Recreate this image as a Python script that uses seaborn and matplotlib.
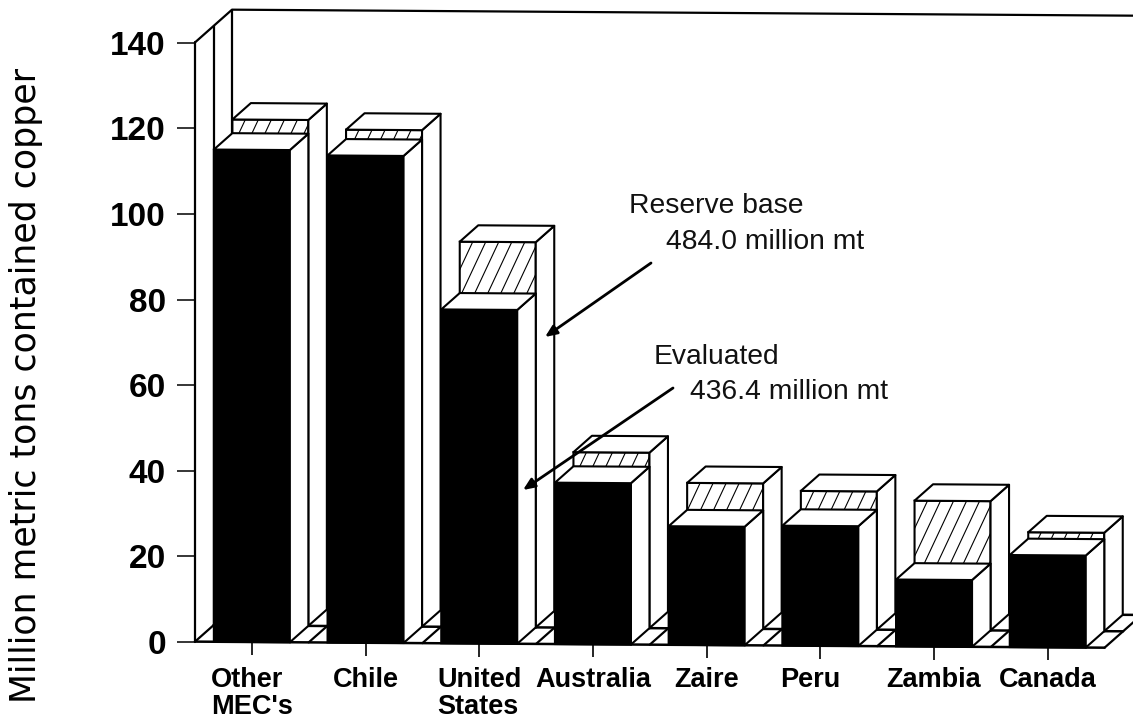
import matplotlib
matplotlib.use('Agg')
import matplotlib.pyplot as plt
import numpy as np
import seaborn as sns
from matplotlib.patches import Polygon
from matplotlib.transforms import Affine2D, ScaledTranslation

# Copper reserves by country, million metric tons
paises = ['Other\nMEC\'s', 'Chile', 'United\nStates', 'Australia', 'Zaire', 'Peru', 'Zambia', 'Canada']
avaliado = [115.0, 113.8, 78.0, 37.7, 27.7, 28.0, 15.6, 21.5]
reserva = [118.2, 116.0, 90.0, 41.0, 34.0, 32.3, 30.2, 23.0]
y_ticks = [0, 20, 40, 60, 80, 100, 120, 140]

sns.set_style('white')
plt.rcParams['font.family'] = ['Liberation Sans', 'DejaVu Sans']
plt.rcParams['text.color'] = 'black'
plt.rcParams['xtick.labelcolor'] = 'black'
plt.rcParams['ytick.labelcolor'] = 'black'

fig = plt.figure(figsize=(11.33, 7.19), dpi=100)
ax = fig.add_axes([195 / 1133, 77 / 719, 938 / 1133, 642 / 719])
ax.patch.set_alpha(0)

# fake 3D depth, in data units
dx = 18.5 / 113.7
dy = 16.5 / 4.28
w = 76 / 113.7
lw = 1.5
n = len(paises)

# the scan is slightly tilted
tilt = Affine2D.from_values(1, -0.177, 0, 1, 0, 0)
t_front = tilt + ax.transData
t_back = Affine2D().translate(dx, dy) + t_front

sns.barplot(x=paises, y=reserva, color='white', saturation=1, edgecolor='black',
            linewidth=lw, width=w, ax=ax)
sns.barplot(x=paises, y=avaliado, color='black', saturation=1, edgecolor='black',
            linewidth=lw, width=w, ax=ax)
barras_fundo = ax.containers[0]
barras_frente = ax.containers[1]


def faces(i, h, trans, z):
    x0, x1 = i - w / 2, i + w / 2
    lado = [(x1, 0), (x1 + dx, dy), (x1 + dx, h + dy), (x1, h)]
    topo = [(x0, h), (x1, h), (x1 + dx, h + dy), (x0 + dx, h + dy)]
    for pts in (lado, topo):
        ax.add_patch(Polygon(pts, closed=True, facecolor='white', edgecolor='black', linewidth=lw,
                             joinstyle='round', transform=trans, zorder=z, clip_on=False))


for i in range(n):
    fundo = barras_fundo[i]
    fundo.set_transform(t_back)
    fundo.set_zorder(10 * i + 1)
    fundo.set_clip_on(False)
    frente = barras_frente[i]
    frente.set_transform(t_front)
    frente.set_zorder(10 * i + 5)
    frente.set_clip_on(False)
    faces(i, reserva[i], t_back, 10 * i + 3)
    faces(i, avaliado[i], t_front, 10 * i + 6)

    # hatch at the slope of the original, clipped to the back bar
    inclinacao = 56.9
    alt = reserva[i]
    x0 = i - w / 2
    for ini in np.arange(x0 - alt / inclinacao, x0 + w, 13 / 113.7):
        linha, = ax.plot([ini, ini + alt / inclinacao], [0, alt], color='black', lw=0.8,
                         transform=t_back, zorder=10 * i + 2)
        linha.set_clip_path(fundo)

# floor
for nivel in (0, 1, 2):
    ax.plot([-0.5 + nivel * dx, n - 0.5 + nivel * dx], [nivel * dy, nivel * dy], color='black',
            lw=1.8, transform=t_front, zorder=1, clip_on=False)
for b in np.arange(n + 1) - 0.5:
    ax.plot([b, b + 2 * dx], [0, 2 * dy], color='black', lw=1.6, transform=t_front, zorder=1,
            clip_on=False)

# walls
for nivel in (0, 1, 2):
    ax.plot([-0.5 + nivel * dx] * 2, [nivel * dy, 140 + nivel * dy], color='black', lw=1.6,
            transform=t_front, zorder=1, clip_on=False)
ax.plot([-0.5, -0.5 + 2 * dx, n - 0.5 + 2 * dx], [140, 140 + 2 * dy, 140 + 2 * dy], color='black',
        lw=1.6, transform=t_front, zorder=1, clip_on=False)

ax.set_xlim(-0.5, -0.5 + 938 / 113.7)
ax.set_ylim(0, 150)
sns.despine(ax=ax, left=True, bottom=True)

ax.set_yticks(y_ticks)
ax.tick_params(axis='y', left=True, length=13, width=1.1, pad=8, labelsize=24, color='black')
ax.tick_params(axis='x', bottom=True, length=9.5, width=1.2, pad=8.5, labelsize=19.5, color='black')
for t in ax.get_yticklabels():
    t.set_fontweight('bold')
for tick in ax.xaxis.get_major_ticks():
    tick.tick1line.set_transform(t_front)
    tick.label1.set_fontweight('bold')
    tick.label1.set_multialignment('left')
    tick.label1.set_linespacing(1.05)
# Peru sits off its tick in the original
peru = ax.xaxis.get_major_ticks()[5].label1
peru.set_transform(peru.get_transform() + ScaledTranslation(-0.1, 0, fig.dpi_scale_trans))

ax.set_xlabel('')
ax.set_ylabel('')
fig.text(26 / 1133, 1 - 385 / 719, 'Million metric tons contained copper', rotation=90,
         ha='center', va='center', fontsize=25, family='DejaVu Sans')


def nota(x, y, txt):
    fig.text(x / 1133, 1 - y / 719, txt, ha='left', va='center', fontsize=20.3, color='#111111',
             zorder=200)


nota(629, 206, 'Reserve base')
nota(666, 242, '484.0 million mt')
nota(654, 357, 'Evaluated')
nota(690, 392, '436.4 million mt')

for ini, fim in (((651, 263), (545, 337)), ((673, 388), (523, 490))):
    ax.annotate('', xy=(fim[0], 719 - fim[1]), xytext=(ini[0], 719 - ini[1]),
                xycoords='figure pixels', textcoords='figure pixels', zorder=150,
                arrowprops=dict(arrowstyle='-|>,head_length=0.7,head_width=0.3', color='black', lw=2,
                                shrinkA=0, shrinkB=0))

fig.savefig('out.png', dpi=100)
